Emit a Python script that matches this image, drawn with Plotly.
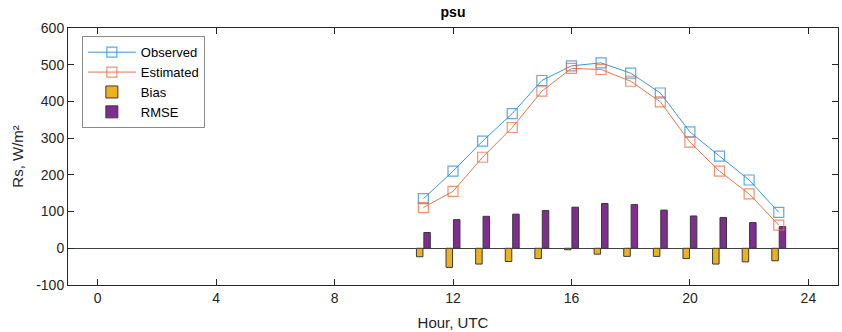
import plotly.graph_objects as go

hours = [11, 12, 13, 14, 15, 16, 17, 18, 19, 20, 21, 22, 23]
observed = [135, 210, 292, 367, 457, 497, 505, 477, 423, 317, 251, 186, 98]
estimated = [111, 155, 248, 329, 428, 490, 487, 455, 399, 289, 210, 148, 63]
bias = [-23, -52, -43, -36, -28, -4, -16, -22, -22, -28, -43, -37, -34]
rmse = [43, 78, 87, 93, 103, 112, 122, 119, 104, 88, 84, 70, 59]
x_ticks = [0, 4, 8, 12, 16, 20, 24]
y_ticks = [-100, 0, 100, 200, 300, 400, 500, 600]
y_tick_labels = ["-100", "0", "100", "200", "300", "400", "500", "600"]

FONT = "Liberation Sans, Arial, sans-serif"
AX = "#262626"

fig = go.Figure()
fig.add_trace(go.Scatter(
    x=hours, y=observed, name="Observed", mode="lines+markers",
    line=dict(color="#3F95D6", width=1),
    marker=dict(symbol="square-open", size=10, color="rgba(40,140,215,0.75)", line=dict(width=1.2)),
))
fig.add_trace(go.Scatter(
    x=hours, y=estimated, name="Estimated", mode="lines+markers",
    line=dict(color="#E8764A", width=1),
    marker=dict(symbol="square-open", size=10, color="rgba(230,110,70,0.75)", line=dict(width=1.2)),
))
fig.add_trace(go.Bar(
    x=hours, y=bias, name="Bias",
    marker=dict(color="#EDB120", line=dict(color="#3a3a3a", width=1)),
))
fig.add_trace(go.Bar(
    x=hours, y=rmse, name="RMSE",
    marker=dict(color="#7E2F8E", line=dict(color="#3a3a3a", width=1)),
))

fig.update_layout(
    width=842, height=332,
    margin=dict(l=68, r=4, t=28, b=47),
    paper_bgcolor="white", plot_bgcolor="white",
    font=dict(family=FONT, size=14, color=AX),
    barmode="group", bargap=0.5, bargroupgap=0.12,
    title=dict(text="<b>psu</b>", x=0.5, xanchor="center", y=1 - 12 / 332, yanchor="middle",
               xref="paper", yref="container", font=dict(size=14, color="#000")),
    showlegend=True,
    legend=dict(x=0.018, y=0.968, xanchor="left", yanchor="top",
                bgcolor="white", bordercolor="#8a8a8a", borderwidth=1,
                font=dict(size=13, color="#000"), tracegroupgap=0,
                itemwidth=48),
    xaxis=dict(range=[-1, 25], tickvals=x_ticks, ticks="inside", ticklen=6,
               tickcolor=AX, showline=True, linecolor=AX, linewidth=1, mirror="ticks",
               showgrid=False, zeroline=False,
               title=dict(text="Hour, UTC", standoff=12, font=dict(size=15)),
               tickfont=dict(size=14)),
    yaxis=dict(range=[-100, 600], tickvals=y_ticks, ticktext=y_tick_labels,
               ticks="inside", ticklen=6,
               tickcolor=AX, showline=True, linecolor=AX, linewidth=1, mirror="ticks",
               showgrid=False, zeroline=True, zerolinecolor="#404040", zerolinewidth=1,
               tickfont=dict(size=14)),
)

fig.add_annotation(text="Rs, W/m²", xref="paper", yref="paper", x=-0.066, y=0.5,
                   textangle=-90, showarrow=False, xanchor="center", yanchor="middle",
                   font=dict(size=15, color=AX))

fig.write_html("out.html")
